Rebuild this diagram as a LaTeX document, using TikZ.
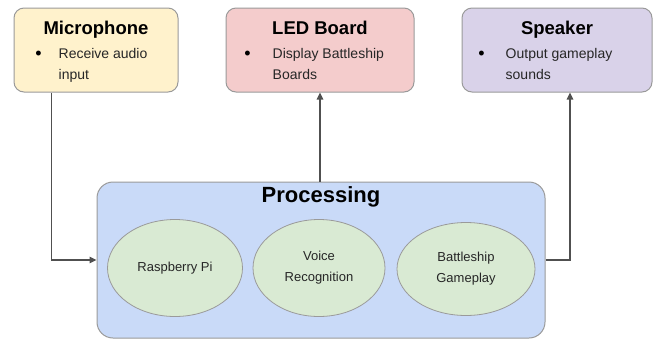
\documentclass[tikz,border=0pt]{standalone}
\usepackage{fontspec}
\setmainfont{Liberation Sans}
\usetikzlibrary{shapes.geometric,arrows.meta}
\definecolor{micfill}{HTML}{FFF2CC}
\definecolor{ledfill}{HTML}{F4CCCC}
\definecolor{spkfill}{HTML}{D9D2E9}
\definecolor{procfill}{HTML}{C9DAF8}
\definecolor{unitfill}{HTML}{D9EAD3}
\definecolor{rim}{HTML}{9A9A9A}
\definecolor{wire}{HTML}{505050}

\begin{document}
\begin{tikzpicture}[x=1pt,y=-1pt,
    io box/.style={draw=rim, line width=1pt, rounded corners=10pt,
        minimum width=#1, minimum height=84, inner sep=0pt},
    title/.style={font=\fontsize{18.5}{20}\selectfont\bfseries, anchor=base,
        inner sep=0pt},
    bullet/.style={font=\fontsize{18}{21}\selectfont, anchor=base,
        inner sep=0pt},
    item/.style={font=\fontsize{14}{21}\selectfont, text=black!85,
        anchor=base west, align=left, inner sep=0pt},
    unit/.style={ellipse, draw=rim, line width=0.8pt, fill=unitfill,
        minimum width=135, minimum height=97, inner sep=0pt, align=center,
        font=\fontsize{13}{21}\selectfont, text=black!85},
    link/.style={draw=wire, line width=1.3pt,
        -{Triangle[length=7pt,width=6.5pt]}}]

    \useasboundingbox (0,0) rectangle (659,341);

    % output and input devices
    \node[io box=164, fill=micfill] (mic) at (96,50) {};
    \node[io box=188, fill=ledfill] (led) at (320,50) {};
    \node[io box=190, fill=spkfill] (spk) at (557,50) {};

    \node[title] (mic title) at ([yshift=-27pt]mic.north) {Microphone};
    \node[title] (led title) at ([yshift=-27pt]led.north) {LED Board};
    \node[title] (spk title) at ([yshift=-27pt]spk.north) {Speaker};

    \node[bullet] (mic dot) at ([xshift=25pt,yshift=-52pt]mic.north west) {\textbullet};
    \node[bullet] (led dot) at ([xshift=22pt,yshift=-52pt]led.north west) {\textbullet};
    \node[bullet] (spk dot) at ([xshift=20pt,yshift=-52pt]spk.north west) {\textbullet};

    % base anchor sits on the last line here
    \node[item] (mic text) at ([xshift=45pt,yshift=-72pt]mic.north west)
        {Receive audio\\input};
    \node[item] (led text) at ([xshift=47pt,yshift=-72pt]led.north west)
        {Display Battleship\\Boards};
    \node[item] (spk text) at ([xshift=44pt,yshift=-72pt]spk.north west)
        {Output gameplay\\sounds};

    % processing block
    \node[draw=rim, line width=1pt, fill=procfill, rounded corners=16pt,
        minimum width=448, minimum height=156, inner sep=0pt]
        (proc) at (321,260) {};
    \node[title, font=\fontsize{22}{24}\selectfont\bfseries]
        (proc title) at ([yshift=-21pt]proc.north) {Processing};

    \node[unit] (pi)    at (175,268) {Raspberry Pi};
    \node[unit, minimum width=132] (voice) at (319,268) {Voice\\Recognition};
    \node[unit, minimum width=138, minimum height=93]
        (game)  at (466,269) {Battleship\\Gameplay};

    % signal flow
    \draw[link] ([xshift=38pt]mic.south west) |- (proc.west);
    \draw[link] (led.south |- proc.north) -- (led.south);
    \draw[link] (proc.east) -| ([xshift=13pt]spk.south);

\end{tikzpicture}
\end{document}
